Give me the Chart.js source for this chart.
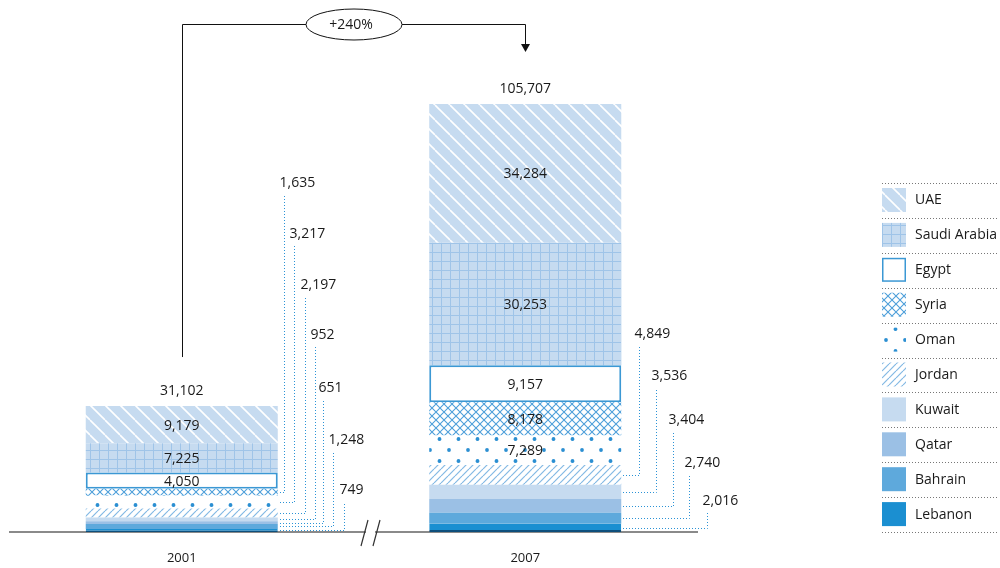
<!DOCTYPE html>
<html>
<head>
<meta charset="utf-8">
<script src="https://cdn.jsdelivr.net/npm/chart.js@4/dist/chart.umd.min.js"></script>
<style>
  body { margin: 0; background: #fff; }
</style>
</head>
<body>
<canvas id="chart" width="1000" height="568"></canvas>
<script>
// data
const years = ['2001', '2007'];
const countries = ['UAE', 'Saudi Arabia', 'Egypt', 'Syria', 'Oman', 'Jordan', 'Kuwait', 'Qatar', 'Bahrain', 'Lebanon'];
const values2001 = [9179, 7225, 4050, 1635, 3217, 2197, 952, 651, 1248, 749];
const values2007 = [34284, 30253, 9157, 8178, 7289, 4849, 3536, 3404, 2740, 2016];
const totals = [31102, 105707];
const growthLabel = '+240%';

// which segments carry their number inside the bar (others get a dotted leader)
const inside2001 = ['UAE', 'Saudi Arabia', 'Egypt'];
const inside2007 = ['UAE', 'Saudi Arabia', 'Egypt', 'Syria', 'Oman'];

// leader layout: offset from bar's right edge, y where the vertical line stops
const leaders = [
  [[6, 195], [16, 246], [27, 297], [37, 347], [45, 400], [55, 452], [66, 502]],
  [[18, 346], [35, 388], [52, 432], [68, 475], [86, 513]]
];

const canvas = document.getElementById('chart');
const ctx = canvas.getContext('2d');
const FONT = '"Open Sans", "Noto Sans", sans-serif';

function pattern(w, h, bg, draw) {
  const t = document.createElement('canvas');
  t.width = w; t.height = h;
  const c = t.getContext('2d');
  c.fillStyle = bg;
  c.fillRect(0, 0, w, h);
  draw(c);
  return ctx.createPattern(t, 'repeat');
}

const fills = {
  'UAE': pattern(15, 15, '#c6dbf0', c => {
    c.strokeStyle = '#fff'; c.lineWidth = 1.6;
    [-15, 0, 15].forEach(a => { c.beginPath(); c.moveTo(a, 0); c.lineTo(a + 15, 15); c.stroke(); });
  }),
  'Saudi Arabia': pattern(9, 9, '#c6dbf0', c => {
    c.strokeStyle = '#9fc4e8'; c.lineWidth = 1;
    c.beginPath(); c.moveTo(0.5, 0); c.lineTo(0.5, 9); c.moveTo(0, 0.5); c.lineTo(9, 0.5); c.stroke();
  }),
  'Egypt': '#ffffff',
  'Syria': pattern(8, 8, '#ffffff', c => {
    c.strokeStyle = '#4d9fda'; c.lineWidth = 1.1;
    c.beginPath(); c.moveTo(0, 0); c.lineTo(8, 8); c.moveTo(0, 8); c.lineTo(8, 0); c.stroke();
  }),
  'Oman': pattern(19, 22, '#ffffff', c => {
    c.fillStyle = '#2b8fd2';
    [[12, 10], [2.5, 21]].forEach(p => {
      [-19, 0, 19].forEach(dx => [-22, 0, 22].forEach(dy => {
        c.beginPath(); c.arc(p[0] + dx, p[1] + dy, 1.9, 0, Math.PI * 2); c.fill();
      }));
    });
  }),
  'Jordan': pattern(7, 7, '#ffffff', c => {
    c.strokeStyle = '#84b9e4'; c.lineWidth = 1.2;
    [-7, 0, 7].forEach(a => { c.beginPath(); c.moveTo(a, 7); c.lineTo(a + 7, 0); c.stroke(); });
  }),
  'Kuwait': '#c6dbf0',
  'Qatar': '#9bc0e5',
  'Bahrain': '#5ea9dc',
  'Lebanon': '#1b8fd1'
};

// stacking goes bottom-up, so Lebanon first
const datasets = countries.map((name, i) => ({
  label: name,
  data: [values2001[i], values2007[i]],
  backgroundColor: fills[name],
  borderColor: name === 'Egypt' ? '#3b98d4' : '#0e4f7c',
  borderWidth: name === 'Egypt' ? 2 : (name === 'Lebanon' ? { top: 0, left: 0, right: 0, bottom: 2 } : 0),
  borderSkipped: false
})).reverse();

const overlay = {
  id: 'overlay',
  afterDatasetsDraw(chart) {
    const c = chart.ctx;
    const byName = {};
    chart.data.datasets.forEach((ds, i) => { byName[ds.label] = chart.getDatasetMeta(i).data; });

    c.save();
    c.fillStyle = '#1a1a1a';
    c.font = '14px ' + FONT;
    c.textBaseline = 'middle';

    [inside2001, inside2007].forEach((names, yi) => {
      const vals = yi === 0 ? values2001 : values2007;
      c.textAlign = 'center';
      names.forEach(n => {
        const bar = byName[n][yi];
        c.fillText(vals[countries.indexOf(n)].toLocaleString('en-US'), bar.x, (bar.y + bar.base) / 2 + 1);
      });

      // dotted leaders for the thin segments
      const rest = countries.filter(n => !names.includes(n));
      rest.forEach((n, k) => {
        const bar = byName[n][yi];
        const right = bar.x + bar.width / 2;
        const my = Math.round((bar.y + bar.base) / 2) + 0.5;
        const vx = Math.round(right + leaders[yi][k][0]) + 0.5;
        const top = leaders[yi][k][1];
        c.strokeStyle = '#2b93d6';
        c.lineWidth = 1;
        c.setLineDash([1, 2]);
        c.beginPath();
        c.moveTo(Math.round(right) + 2, my); c.lineTo(vx, my); c.lineTo(vx, top);
        c.stroke();
        c.setLineDash([]);
        c.textAlign = 'left';
        c.fillText(vals[countries.indexOf(n)].toLocaleString('en-US'), vx - 5, top - 12);
      });
    });

    // totals above bars
    const topBars = byName['UAE'];
    c.textAlign = 'center';
    totals.forEach((t, i) => c.fillText(t.toLocaleString('en-US'), topBars[i].x, topBars[i].y - 15));

    // growth arrow
    const x1 = Math.round(topBars[0].x) + 0.5, x2 = Math.round(topBars[1].x) + 0.5, ly = 24.5;
    c.strokeStyle = '#111'; c.lineWidth = 1;
    c.beginPath();
    c.moveTo(x1, topBars[0].y - 49); c.lineTo(x1, ly); c.lineTo(x2, ly); c.lineTo(x2, 45);
    c.stroke();
    c.fillStyle = '#111';
    c.beginPath(); c.moveTo(x2 - 4.5, 44); c.lineTo(x2 + 4.5, 44); c.lineTo(x2, 52); c.closePath(); c.fill();
    c.beginPath(); c.ellipse(354, ly, 48, 15.5, 0, 0, Math.PI * 2);
    c.fillStyle = '#fff'; c.fill(); c.stroke();
    c.fillStyle = '#1a1a1a';
    c.fillText(growthLabel, 351, ly + 1);

    // axis break
    const base = chart.chartArea.bottom;
    c.fillStyle = '#fff';
    c.fillRect(366, base - 2, 9, 4);
    c.strokeStyle = '#333'; c.lineWidth = 1.2;
    c.beginPath();
    c.moveTo(361, base + 14); c.lineTo(368, base - 12);
    c.moveTo(373, base + 14); c.lineTo(380, base - 12);
    c.stroke();

    // legend, top to bottom in reverse stacking order
    const lx = 882, ly0 = 183, row = 34.9;
    const items = chart.data.datasets.slice().reverse();
    c.font = '14px ' + FONT;
    c.textAlign = 'left';
    items.forEach((ds, i) => {
      const y = ly0 + i * row;
      c.fillStyle = ds.backgroundColor;
      c.fillRect(lx, y + 5, 24, 24);
      if (ds.label === 'Egypt') {
        c.strokeStyle = ds.borderColor; c.lineWidth = 1.5;
        c.strokeRect(lx + 0.75, y + 5.75, 22.5, 22.5);
      }
      c.fillStyle = '#1a1a1a';
      c.fillText(ds.label, 915, y + 17.5);
    });
    c.strokeStyle = '#777'; c.lineWidth = 1; c.setLineDash([1, 2]);
    for (let i = 0; i <= items.length; i++) {
      const y = Math.round(ly0 + i * row) + 0.5;
      c.beginPath(); c.moveTo(lx, y); c.lineTo(998, y); c.stroke();
    }
    c.restore();
  }
};

new Chart(canvas, {
  type: 'bar',
  data: { labels: years, datasets },
  options: {
    responsive: false,
    animation: false,
    devicePixelRatio: 1,
    layout: { padding: { left: 10, right: 303, top: 46, bottom: 4 } },
    plugins: { legend: { display: false }, tooltip: { enabled: false } },
    datasets: { bar: { categoryPercentage: 1, barPercentage: 0.559 } },
    scales: {
      x: {
        stacked: true,
        grid: { display: false, drawTicks: false },
        border: { display: true, color: '#8a8a8a', width: 2 },
        ticks: { color: '#1a1a1a', padding: 18, font: { family: FONT, size: 13 } },
        afterFit: scale => { scale.height = 32; }
      },
      y: {
        stacked: true,
        display: false,
        min: 0,
        max: 120000
      }
    }
  },
  plugins: [overlay]
});
</script>
</body>
</html>
